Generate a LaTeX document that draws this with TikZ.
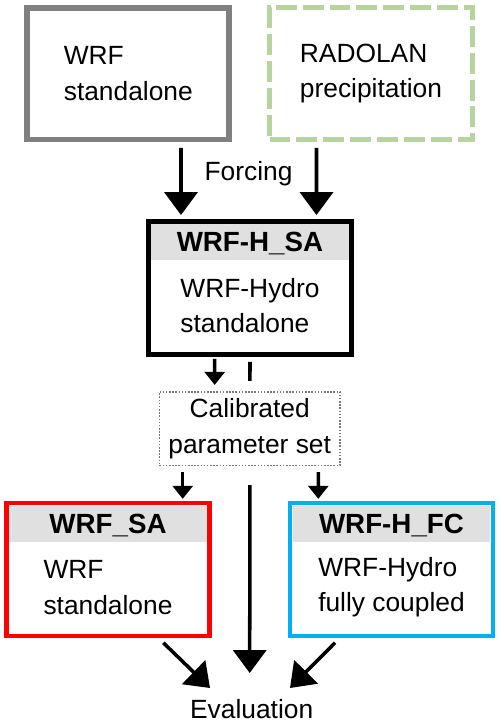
\documentclass[tikz,border=0pt]{standalone}
\usepackage{fontspec}
\setmainfont{Liberation Sans}
\usetikzlibrary{arrows.meta, calc, positioning, fit, backgrounds}

\definecolor{framegray}{RGB}{128,128,128}
\definecolor{radolangreen}{RGB}{183,211,160}
\definecolor{headgray}{RGB}{224,224,224}
\definecolor{calibgray}{RGB}{120,120,120}
\definecolor{coupledblue}{RGB}{0,176,240}

\begin{document}
\begin{tikzpicture}[
    x=0.02cm, y=-0.02cm, % one unit = one pixel of the sketch, y runs down
    every node/.style={font=\fontsize{15}{20}\selectfont},
    bigarrow/.style={-{Triangle[length=13pt, width=18.7pt]}, line width=2pt}, % thick arrows
    smallarrow/.style={-{Triangle[length=7.4pt, width=11.3pt]}, line width=2pt}, % short arrows
    sourcebox/.style={draw, align=left, minimum width=4.04cm, minimum height=2.64cm},
    headbar/.style={fill=headgray, font=\fontsize{15.8}{20}\selectfont\bfseries,
        minimum width=3.96cm, minimum height=0.72cm, inner sep=0pt, outer sep=0pt, text depth=0pt},
    bodypart/.style={align=left, minimum width=3.96cm, minimum height=1.84cm, inner sep=0pt, outer sep=0pt},
    modelframe/.style={draw, line width=2.8pt, inner sep=0.05cm}
]

    % --- Frame of the picture ---
    \useasboundingbox (0,0) rectangle (500,724);

    % --- Inputs ---
    \node[sourcebox, draw=framegray, line width=3.4pt] (wrf) at (128.3,73.5) {WRF\\standalone};
    \node[sourcebox, draw=radolangreen, line width=2.83pt, dash pattern=on 11.9pt off 3.4pt,
        minimum width=4.06cm] (radolan) at (371,73.5) {RADOLAN\\precipitation};
    \node (forc) at (248.5,174) {Forcing};

    % --- WRF-Hydro standalone run ---
    \node[headbar] (saH) at (250,242) {WRF-H\_SA};
    \node[bodypart, below=0pt of saH] (saB) {WRF-Hydro\\standalone};
    \node[modelframe, draw=black, fit=(saH)(saB)] (sa) {};

    % --- Calibration result ---
    \node[draw=calibgray, fill=white, line width=0.9pt, dash pattern=on 0.9pt off 0.9pt,
        align=center, minimum width=3.61cm, minimum height=1.48cm] (calib) at (249.7,428.7)
        {Calibrated\\parameter set};

    % --- Final runs ---
    \node[headbar] (wrfsaH) at (108,523.5) {WRF\_SA};
    \node[bodypart, below=0pt of wrfsaH] (wrfsaB) {WRF\\standalone};
    \node[modelframe, draw=red, fit=(wrfsaH)(wrfsaB)] (wrfsa) {};

    \node[headbar] (fcH) at (391.5,523.5) {WRF-H\_FC};
    \node[bodypart, below=0pt of fcH] (fcB) {WRF-Hydro\\fully coupled};
    \node[modelframe, draw=coupledblue, fit=(fcH)(fcB)] (fc) {};

    \node (eval) at (251.7,709) {Evaluation};

    % --- Arrows ---
    \draw[bigarrow] ($(wrf.south)+(52.7,5.5)$) -- ($(sa.north)+(-69,-4)$);
    \draw[bigarrow] ($(radolan.south)+(-54.5,6)$) -- ($(sa.north)+(66.5,-4)$);

    % long arrow runs behind the calibration box
    \begin{scope}[on background layer]
        \draw[bigarrow] ($(sa.south)+(0,5)$) -- ($(eval.center)+(-2,-36)$);
        \fill[white] ($(calib.north)+(-8,-10)$) rectangle ($(calib.south)+(8,19)$);
    \end{scope}

    \draw[smallarrow] ($(sa.south)+(-35.3,2)$) -- ($(calib.north)+(-35,-6)$);
    \draw[smallarrow] ($(calib.south)+(-67,5.7)$) -- ($(wrfsa.north)+(74.7,-1.7)$);
    \draw[smallarrow] ($(calib.south)+(68.6,5.7)$) -- ($(fc.north)+(-73.2,-1.7)$);

    \draw[bigarrow] ($(wrfsa.south)+(55.3,4.3)$) -- ($(eval.center)+(-41.7,-21)$);
    \draw[bigarrow] ($(fc.south)+(-56.5,4.3)$) -- ($(eval.center)+(38.3,-21)$);

\end{tikzpicture}
\end{document}
